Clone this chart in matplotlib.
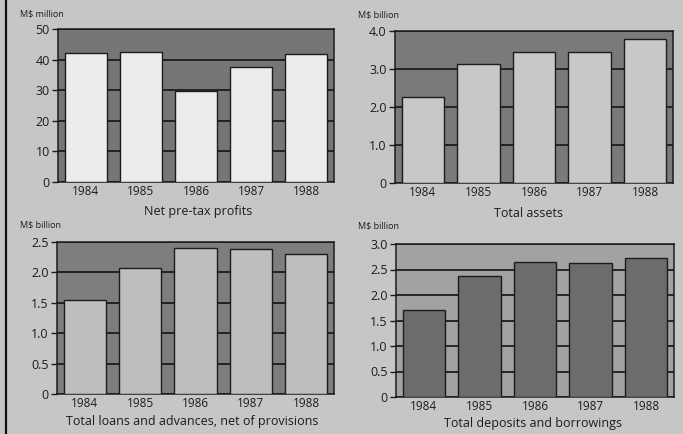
import matplotlib
matplotlib.use("Agg")
import matplotlib.pyplot as plt
from matplotlib.lines import Line2D

plt.rcParams['font.family'] = ['Open Sans', 'DejaVu Sans']

years = ["1984", "1985", "1986", "1987", "1988"]

profits = [42.0, 42.6, 29.8, 37.7, 41.7]
assets = [2.27, 3.13, 3.46, 3.46, 3.78]
loans = [1.55, 2.07, 2.40, 2.38, 2.31]
deposits = [1.71, 2.38, 2.65, 2.63, 2.72]

profit_ticks = [0, 10, 20, 30, 40, 50]
profit_ticklabels = ["0", "10", "20", "30", "40", "50"]
asset_ticks = [0, 1.0, 2.0, 3.0, 4.0]
asset_ticklabels = ["0", "1.0", "2.0", "3.0", "4.0"]
loan_ticks = [0, 0.5, 1.0, 1.5, 2.0, 2.5]
loan_ticklabels = ["0", "0.5", "1.0", "1.5", "2.0", "2.5"]
deposit_ticks = [0, 0.5, 1.0, 1.5, 2.0, 2.5, 3.0]
deposit_ticklabels = ["0", "0.5", "1.0", "1.5", "2.0", "2.5", "3.0"]

titles = ["Net pre-tax profits", "Total assets",
          "Total loans and advances, net of provisions",
          "Total deposits and borrowings"]
units = ["M$ million", "M$ billion", "M$ billion", "M$ billion"]

W, H = 683, 434
PAPER = "#c6c6c4"
INK = "#1c1c1c"

fig = plt.figure(figsize=(W / 100, H / 100), dpi=100)
fig.patch.set_facecolor(PAPER)

def px_axes(x0, y0, x1, y1):
    return fig.add_axes([x0 / W, 1 - y1 / H, (x1 - x0) / W, (y1 - y0) / H])

panels = [
    dict(box=(58, 29, 334, 182), vals=profits, ticks=profit_ticks,
         labels=profit_ticklabels, bg="#767676", bar="#ececea",
         unit_xy=(20, 14), title_xy=(198, 212)),
    dict(box=(395, 31, 673, 183), vals=assets, ticks=asset_ticks,
         labels=asset_ticklabels, bg="#7a7a7a", bar="#c8c8c6",
         unit_xy=(358, 15), title_xy=(529, 213)),
    dict(box=(57, 242, 334, 394), vals=loans, ticks=loan_ticks,
         labels=loan_ticklabels, bg="#7e7e7e", bar="#bebebc",
         unit_xy=(20, 225), title_xy=(192, 421)),
    dict(box=(396, 244, 674, 397), vals=deposits, ticks=deposit_ticks,
         labels=deposit_ticklabels, bg="#a2a2a0", bar="#6c6c6c",
         unit_xy=(358, 226), title_xy=(533, 423)),
]

for p, title, unit in zip(panels, titles, units):
    ax = px_axes(*p["box"])
    ax.set_facecolor(p["bg"])
    x = range(len(years))
    ax.bar(x, p["vals"], width=0.76, color=p["bar"], edgecolor=INK,
           linewidth=1.0, zorder=3)
    ax.set_xlim(-0.5, len(years) - 0.5)
    ax.set_ylim(p["ticks"][0], p["ticks"][-1])
    ax.set_yticks(p["ticks"])
    ax.set_yticklabels(p["labels"])
    ax.set_xticks(list(x))
    ax.set_xticklabels(years)
    ax.set_axisbelow(True)
    ax.yaxis.grid(True, color=INK, linewidth=1.3, zorder=1)
    ax.tick_params(axis="y", direction="out", length=4, width=1.0,
                   color=INK, labelsize=9, labelcolor=INK, pad=2)
    ax.tick_params(axis="x", length=0, labelsize=8.5, labelcolor=INK, pad=2)
    for s in ax.spines.values():
        s.set_color(INK)
        s.set_linewidth(1.1)
    ux, uy = p["unit_xy"]
    fig.text(ux / W, 1 - uy / H, unit, fontsize=6.5, color=INK,
             ha="left", va="center")
    tx, ty = p["title_xy"]
    fig.text(tx / W, 1 - ty / H, title, fontsize=9, color=INK,
             ha="center", va="center")

# left border rule of the page
fig.add_artist(Line2D([6 / W, 6 / W], [0, 1], color="#111111", linewidth=1.6))

fig.savefig("out.png", dpi=100, facecolor=fig.get_facecolor())
